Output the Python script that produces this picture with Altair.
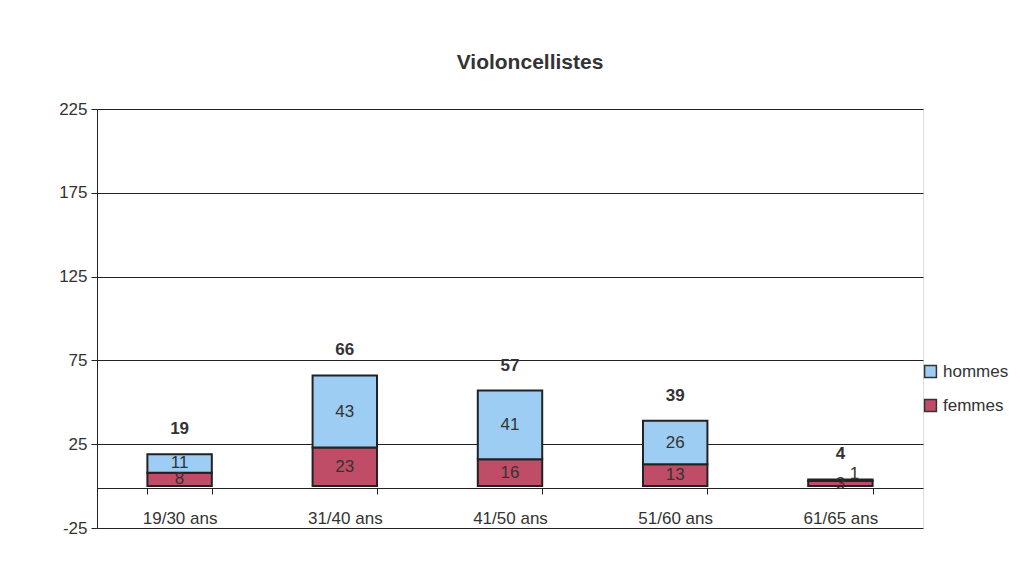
import altair as alt
import pandas as pd

categories = ["19/30 ans", "31/40 ans", "41/50 ans", "51/60 ans", "61/65 ans"]
femmes = [8, 23, 16, 13, 3]
hommes = [11, 43, 41, 26, 1]
series = ["femmes", "hommes"]
y_ticks = [-25, 25, 75, 125, 175, 225]

rows = []
for i, c in enumerate(categories):
    rows.append({"cat": c, "serie": "femmes", "value": femmes[i], "ord": 0})
    rows.append({"cat": c, "serie": "hommes", "value": hommes[i], "ord": 1})
df = pd.DataFrame(rows)

FONT = "Liberation Sans"
x_enc = alt.X("cat:N", sort=categories, title=None,
              scale=alt.Scale(paddingInner=0.61, paddingOuter=0.305),
              axis=alt.Axis(offset=-40, domainColor="#222", tickColor="#222",
                            tickBand="extent", tickSize=6, labelPadding=16,
                            labelAngle=0, labelFont=FONT, labelFontSize=17,
                            labelColor="#333", grid=False))
y_scale = alt.Scale(domain=[-25, 225], nice=False, zero=False)

base = alt.Chart(df).transform_stack(
    stack="value", groupby=["cat"], as_=["y0", "y1"],
    sort=[alt.SortField("ord", order="ascending")]
).transform_calculate(mid="(datum.y0 + datum.y1) / 2")

bars = base.mark_bar(stroke="#222", strokeWidth=2).encode(
    x=x_enc,
    y=alt.Y("y0:Q", scale=y_scale, title=None,
            axis=alt.Axis(values=y_ticks, grid=True, gridColor="#222",
                          gridWidth=1, domainColor="#222", tickColor="#222",
                          tickSize=6, labelFont=FONT, labelFontSize=17,
                          labelColor="#333", labelPadding=4,
                          labelExpr="'' + datum.value")),
    y2="y1:Q",
    color=alt.Color("serie:N", scale=alt.Scale(domain=["hommes", "femmes"],
                                               range=["#9DCDF2", "#BF4D68"]),
                    legend=alt.Legend(title=None, orient="none", legendX=825,
                                      legendY=254, symbolType="square",
                                      symbolSize=140, symbolStrokeColor="#333",
                                      symbolStrokeWidth=1.5, labelOffset=4,
                                      labelFont=FONT, labelFontSize=17,
                                      labelColor="#333", rowPadding=15,
                                      symbolOpacity=1)),
)

inner = base.transform_filter("datum.value >= 2").mark_text(
    font=FONT, fontSize=17, color="#333", baseline="middle").encode(
    x=alt.X("cat:N", sort=categories),
    y=alt.Y("mid:Q", scale=y_scale),
    text="value:Q",
)

inner_small = base.transform_filter("datum.value < 2").mark_text(
    font=FONT, fontSize=17, color="#333", baseline="middle", dx=14, dy=-6).encode(
    x=alt.X("cat:N", sort=categories),
    y=alt.Y("mid:Q", scale=y_scale),
    text="value:Q",
)

totals = alt.Chart(df).transform_aggregate(
    total="sum(value)", groupby=["cat"]
).mark_text(font=FONT, fontSize=17, fontWeight="bold", color="#333",
            baseline="middle", dy=-25).encode(
    x=alt.X("cat:N", sort=categories),
    y=alt.Y("total:Q", scale=y_scale),
    text="total:Q",
)

chart = alt.layer(bars, inner, inner_small, totals).properties(
    width=826, height=419,
    autosize=alt.AutoSizeParams(type="none"),
    padding={"left": 89, "top": 101, "right": 87, "bottom": 38},
    title=alt.TitleParams("Violoncellistes", font=FONT, fontSize=21,
                          fontWeight="bold", color="#333", dx=20, offset=27),
).configure_view(stroke="#777", strokeWidth=1.5).configure(background="white")

chart.save("out.html", embed_options={"renderer": "svg", "actions": False})
